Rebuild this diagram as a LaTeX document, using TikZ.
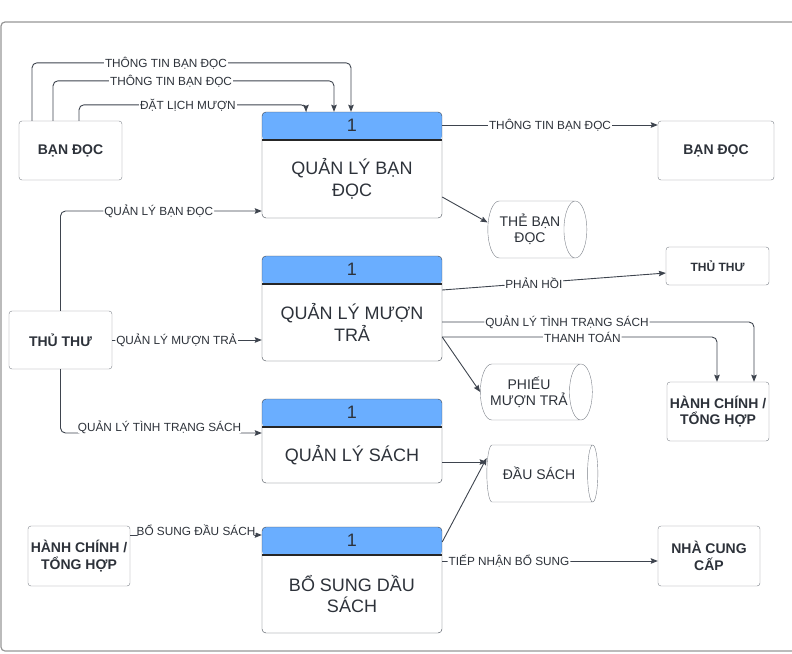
\documentclass[tikz,border=0pt]{standalone}
\usepackage{fontspec}
\setmainfont{Liberation Sans}
\usetikzlibrary{arrows.meta,positioning,shapes.geometric}

\definecolor{headblue}{RGB}{106,174,255}
\definecolor{inkline}{RGB}{62,68,78}
\definecolor{boxline}{RGB}{125,130,138}
\definecolor{inktext}{RGB}{45,50,58}
\definecolor{framegray}{RGB}{150,150,150}

\begin{document}
\begin{tikzpicture}[
    x=1pt, y=-1pt,
    >={Stealth[length=7pt,width=5.5pt,inset=1pt]},
    entity/.style={
        draw=boxline,
        rounded corners=3,
        align=center,
        text=inktext,
        font=\fontsize{14}{16.5}\selectfont\bfseries,
        minimum width=103,
        minimum height=59,
        inner sep=2
    },
    proc/.style={
        draw=inkline,
        rounded corners=4,
        minimum width=180,
        minimum height=#1,
        inner sep=0,
        path picture={
            \fill[headblue] (path picture bounding box.north west)
                rectangle ([yshift=-28]path picture bounding box.north east);
            \draw[line width=1.3, black!85]
                ([yshift=-28]path picture bounding box.north west)
                -- ([yshift=-28]path picture bounding box.north east);
        }
    },
    headnum/.style={
        text=inktext,
        font=\fontsize{18}{21.6}\selectfont
    },
    proctext/.style={
        align=center,
        text=inktext,
        font=\fontsize{18}{21.6}\selectfont
    },
    store/.style={
        cylinder,
        shape border rotate=0,
        draw=boxline,
        fill=white,
        aspect=0.7,
        align=center,
        text=inktext,
        font=\fontsize{14}{16}\selectfont,
        minimum width=57,
        minimum height=99,
        inner sep=1
    },
    flow/.style={
        ->,
        draw=inkline,
        line width=0.9,
        rounded corners=5
    },
    lbl/.style={
        fill=white,
        inner sep=1,
        text=inktext,
        font=\fontsize{11.8}{13}\selectfont
    }
]

\useasboundingbox (0,0) rectangle (792,653);

% ------------------------------------------------
% Frame
% ------------------------------------------------

\draw[framegray, line width=1.2, rounded corners=4]
    (800,22) -- (1,22) -- (1,651) -- (800,651);

% ------------------------------------------------
% External entities
% ------------------------------------------------

\node[entity] (reader) at (70.5,150.5) {BẠN ĐỌC};
\node[entity, minimum width=116] (readerout) at (716,150.5) {BẠN ĐỌC};

\node[entity, minimum height=38, font=\fontsize{12}{14}\selectfont\bfseries]
    (libout) at (717.5,266) {THỦ THƯ};
\node[entity, minimum height=58] (librarian) at (60.5,340) {THỦ THƯ};

\node[entity, minimum width=102] (adminout) at (718,411.5)
    {HÀNH CHÍNH /\\TỔNG HỢP};
\node[entity, minimum width=102, minimum height=60] (admin) at (79,556)
    {HÀNH CHÍNH /\\TỔNG HỢP};
\node[entity, minimum width=102, minimum height=60] (supplier) at (709,556)
    {NHÀ CUNG\\CẤP};

% ------------------------------------------------
% Processes
% ------------------------------------------------

\node[proc=106] (p1) at (352,165) {};
\node[headnum] (p1n) at ([yshift=-14]p1.north) {1};
\node[proctext] (p1t) at ([yshift=-14]p1.center) {QUẢN LÝ BẠN\\ĐỌC};

\node[proc=105] (p2) at (352,308.5) {};
\node[headnum] (p2n) at ([yshift=-14]p2.north) {1};
\node[proctext] (p2t) at ([yshift=-14]p2.center) {QUẢN LÝ MƯỢN\\TRẢ};

\node[proc=84] (p3) at (352,441) {};
\node[headnum] (p3n) at ([yshift=-14]p3.north) {1};
\node[proctext] (p3t) at ([yshift=-14]p3.center) {QUẢN LÝ SÁCH};

\node[proc=106] (p4) at (352,580) {};
\node[headnum] (p4n) at ([yshift=-14]p4.north) {1};
\node[proctext] (p4t) at ([yshift=-14]p4.center) {BỔ SUNG DẦU\\SÁCH};

% ------------------------------------------------
% Data stores
% ------------------------------------------------

\node[store] (card) at (530,229.5) {THẺ BẠN\\ĐỌC};
\node[store, minimum height=112, minimum width=56] (slip) at (529,392)
    {PHIẾU\\MƯỢN TRẢ};
\node[store, minimum height=111] (titles) at (539,473.5) {ĐẦU SÁCH};

% ------------------------------------------------
% Connections
% ------------------------------------------------

% Reader -> reader management
\draw[flow] ([xshift=-38.5]reader.north) -- ++(0,-58)
    -| node[lbl, pos=0.21] (lab1) {THÔNG TIN BẠN ĐỌC} ([xshift=-1]p1.north);
\draw[flow] ([xshift=-17.5]reader.north) -- ++(0,-40)
    -| node[lbl, pos=0.21] (lab2) {THÔNG TIN BẠN ĐỌC} ([xshift=-18]p1.north);
\draw[flow] ([xshift=8.5]reader.north) -- ++(0,-16)
    -| node[lbl, pos=0.24] (lab3) {ĐẶT LỊCH MƯỢN} ([xshift=-46]p1.north);

\draw[flow] ([yshift=40]p1.east)
    -- node[lbl] (lab4) {THÔNG TIN BẠN ĐỌC}
    ([yshift=40]p1.east -| readerout.west);
\draw[flow] ([yshift=-32]p1.east) -- ([yshift=7]card.west);

% Librarian -> processes
\draw[flow] (librarian.north)
    |- node[lbl, pos=0.744] (lab5) {QUẢN LÝ BẠN ĐỌC} ([yshift=-46]p1.west);
\draw[flow] (librarian.east)
    -- node[lbl, pos=0.43] (lab6) {QUẢN LÝ MƯỢN TRẢ} (librarian.east -| p2.west);
\draw[flow] (librarian.south)
    |- node[lbl, above=2, pos=0.746] (lab7) {QUẢN LÝ TÌNH TRẠNG SÁCH}
    ([yshift=8]p3.west);

% Loan management outputs
\draw[flow] ([yshift=18.5]p2.east)
    -- node[lbl, pos=0.41] (lab8) {PHẢN HỒI} ([yshift=-7]libout.west);
\draw[flow] ([yshift=-13.5]p2.east)
    -| node[lbl, pos=0.2] (lab9) {QUẢN LÝ TÌNH TRẠNG SÁCH}
    ([xshift=36]adminout.north);
\draw[flow] ([yshift=-28.5]p2.east)
    -| node[lbl, pos=0.255] (lab10) {THANH TOÁN} ([xshift=-1]adminout.north);
\draw[flow] ([yshift=-28.5]p2.east) -- (slip.west);

% Book titles
\draw[flow] ([yshift=-21]p3.east) -- ([yshift=-21]p3.east -| titles.west);
\draw[flow] ([yshift=38]p4.east) -- ([yshift=15.5]titles.west);

\draw[flow] ([yshift=21]admin.east)
    -- node[lbl, above=2] (lab11) {BỔ SUNG ĐẦU SÁCH}
    ([yshift=21]admin.east -| p4.west);
\draw[flow] ([yshift=19]p4.east)
    -- node[lbl, pos=0.31] (lab12) {TIẾP NHẬN BỔ SUNG}
    ([yshift=19]p4.east -| supplier.west);

\end{tikzpicture}
\end{document}
